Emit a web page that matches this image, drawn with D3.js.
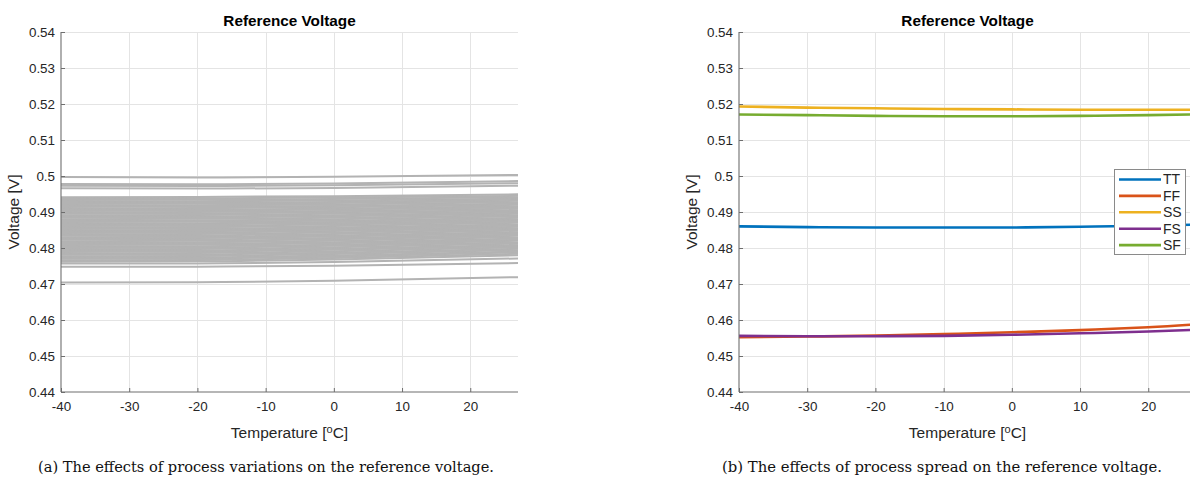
<!DOCTYPE html>
<html>
<head>
<meta charset="utf-8">
<script src="https://cdn.jsdelivr.net/npm/d3@7"></script>
<style>
  html, body { margin: 0; padding: 0; background: #ffffff; }
  svg { display: block; }
</style>
</head>
<body>
<svg id="fig" width="1190" height="480"></svg>
<script>
// Temperature sweep points for the Monte Carlo runs (deg C)
const mcTemps = [-40, -20, 0, 27];

// Monte Carlo runs of the reference voltage (V) at the mcTemps points
const mcRuns = [
  [0.4997, 0.4996, 0.4998, 0.5003],
  [0.4978, 0.4977, 0.4979, 0.4986],
  [0.4973, 0.4972, 0.4974, 0.4980],
  [0.4966, 0.4965, 0.4967, 0.4973],
  [0.4941, 0.4942, 0.4944, 0.4949],
  [0.4937, 0.4938, 0.4940, 0.4945],
  [0.4933, 0.4934, 0.4936, 0.4941],
  [0.4929, 0.4930, 0.4932, 0.4937],
  [0.4925, 0.4926, 0.4928, 0.4934],
  [0.4922, 0.4923, 0.4925, 0.4931],
  [0.4918, 0.4919, 0.4921, 0.4927],
  [0.4914, 0.4915, 0.4917, 0.4923],
  [0.4910, 0.4911, 0.4913, 0.4920],
  [0.4906, 0.4907, 0.4909, 0.4916],
  [0.4903, 0.4904, 0.4907, 0.4913],
  [0.4899, 0.4900, 0.4903, 0.4909],
  [0.4895, 0.4896, 0.4899, 0.4905],
  [0.4891, 0.4892, 0.4895, 0.4902],
  [0.4887, 0.4888, 0.4891, 0.4898],
  [0.4884, 0.4885, 0.4888, 0.4895],
  [0.4880, 0.4881, 0.4884, 0.4891],
  [0.4876, 0.4877, 0.4880, 0.4888],
  [0.4872, 0.4873, 0.4876, 0.4884],
  [0.4868, 0.4869, 0.4872, 0.4880],
  [0.4865, 0.4866, 0.4869, 0.4877],
  [0.4861, 0.4862, 0.4865, 0.4873],
  [0.4857, 0.4858, 0.4861, 0.4870],
  [0.4853, 0.4854, 0.4857, 0.4866],
  [0.4849, 0.4850, 0.4854, 0.4862],
  [0.4846, 0.4847, 0.4851, 0.4859],
  [0.4842, 0.4843, 0.4847, 0.4855],
  [0.4838, 0.4839, 0.4843, 0.4852],
  [0.4834, 0.4835, 0.4839, 0.4848],
  [0.4830, 0.4831, 0.4835, 0.4844],
  [0.4827, 0.4828, 0.4832, 0.4841],
  [0.4823, 0.4824, 0.4828, 0.4837],
  [0.4819, 0.4820, 0.4824, 0.4834],
  [0.4815, 0.4816, 0.4820, 0.4830],
  [0.4811, 0.4812, 0.4816, 0.4826],
  [0.4808, 0.4809, 0.4813, 0.4823],
  [0.4804, 0.4805, 0.4809, 0.4820],
  [0.4800, 0.4801, 0.4806, 0.4816],
  [0.4796, 0.4797, 0.4802, 0.4812],
  [0.4792, 0.4793, 0.4798, 0.4808],
  [0.4789, 0.4790, 0.4795, 0.4805],
  [0.4785, 0.4786, 0.4791, 0.4802],
  [0.4781, 0.4782, 0.4787, 0.4798],
  [0.4777, 0.4778, 0.4783, 0.4794],
  [0.4773, 0.4774, 0.4779, 0.4790],
  [0.4770, 0.4771, 0.4776, 0.4788],
  [0.4766, 0.4767, 0.4772, 0.4784],
  [0.4762, 0.4763, 0.4768, 0.4780],
  [0.4757, 0.4757, 0.4761, 0.4771],
  [0.4748, 0.4748, 0.4751, 0.4758],
  [0.4704, 0.4705, 0.4709, 0.4719]
];

// Temperature sweep points for the process corners (deg C)
const cornerTemps = [-40, -30, -20, -10, 0, 10, 20, 27];

// Process corner names and their reference voltage (V)
const cornerNames = ["TT", "FF", "SS", "FS", "SF"];
const vTT = [0.4860, 0.4858, 0.4857, 0.4857, 0.4857, 0.4859, 0.4862, 0.4865];
const vFF = [0.4552, 0.4554, 0.4557, 0.4561, 0.4566, 0.4572, 0.4580, 0.4588];
const vSS = [0.5193, 0.5190, 0.5188, 0.5186, 0.5185, 0.5184, 0.5184, 0.5184];
const vFS = [0.4556, 0.4555, 0.4555, 0.4556, 0.4559, 0.4563, 0.4568, 0.4573];
const vSF = [0.5171, 0.5169, 0.5167, 0.5166, 0.5166, 0.5167, 0.5169, 0.5171];
const cornerValues = [vTT, vFF, vSS, vFS, vSF];
const cornerColors = ["#0072BD", "#D95319", "#EDB120", "#7E2F8E", "#77AC30"];

// Axis ticks and texts
const xTicks = [-40, -30, -20, -10, 0, 10, 20];
const yTicks = [0.44, 0.45, 0.46, 0.47, 0.48, 0.49, 0.5, 0.51, 0.52, 0.53, 0.54];
const plotTitle = "Reference Voltage";
const yLabel = "Voltage [V]";
const captionA = "(a) The effects of process variations on the reference voltage.";
const captionB = "(b) The effects of process spread on the reference voltage.";

const svg = d3.select("#fig");
const sansFont = "'Liberation Sans', Arial, Helvetica, sans-serif";
const serifFont = "'DejaVu Serif', 'Liberation Serif', serif";
const textColor = "#262626";

function drawPanel(opts) {
  const x = d3.scaleLinear().domain([-40, 27]).range([opts.left, opts.right]);
  const y = d3.scaleLinear().domain([0.44, 0.54]).range([392, 32]);
  const g = svg.append("g");

  const clipId = "clip-" + opts.id;
  svg.append("clipPath").attr("id", clipId)
    .append("rect")
    .attr("x", opts.left).attr("y", 32)
    .attr("width", opts.right - opts.left).attr("height", 360);

  // grid
  const grid = g.append("g").attr("stroke", "#e4e4e4").attr("stroke-width", 1);
  grid.selectAll("line.gx").data(xTicks.slice(1)).join("line")
    .attr("x1", d => Math.round(x(d)) + 0.5).attr("x2", d => Math.round(x(d)) + 0.5)
    .attr("y1", 32).attr("y2", 392);
  grid.selectAll("line.gy").data(yTicks.slice(1)).join("line")
    .attr("x1", opts.left).attr("x2", opts.right)
    .attr("y1", d => Math.round(y(d)) + 0.5).attr("y2", d => Math.round(y(d)) + 0.5);

  // curves
  const plot = g.append("g").attr("clip-path", `url(#${clipId})`);
  opts.drawLines(plot, x, y);

  // axes (ticks pointing inward, box off)
  const xAxis = d3.axisBottom(x).tickValues(xTicks).tickSize(-4).tickPadding(9)
    .tickFormat(d => String(d));
  const yAxis = d3.axisLeft(y).tickValues(yTicks).tickSize(-4).tickPadding(6)
    .tickFormat(d => String(+d.toFixed(2)));

  const gx = g.append("g").attr("transform", "translate(0,392)").call(xAxis);
  const gy = g.append("g").attr("transform", `translate(${opts.left},0)`).call(yAxis);
  [gx, gy].forEach(a => {
    a.select(".domain").attr("stroke", "#6e6e6e").attr("stroke-width", 1.1);
    a.selectAll(".tick line").attr("stroke", "#6e6e6e");
    a.selectAll(".tick text").attr("fill", textColor)
      .style("font-family", sansFont).style("font-size", "13.4px");
  });
  gx.select(".domain").attr("d", `M${opts.left},0H${opts.right}`);
  gy.select(".domain").attr("d", `M0,392V32`);
  gx.selectAll(".tick text").attr("dy", "0.71em");

  const cx = (opts.left + opts.right) / 2;

  // title
  g.append("text").attr("x", cx).attr("y", 26)
    .attr("text-anchor", "middle")
    .style("font-family", sansFont).style("font-size", "15.3px")
    .style("font-weight", "bold").attr("fill", "#000")
    .text(plotTitle);

  // x label with superscript degree
  const xl = g.append("text").attr("x", cx).attr("y", 438)
    .attr("text-anchor", "middle")
    .style("font-family", sansFont).style("font-size", "15.5px")
    .attr("fill", textColor);
  xl.append("tspan").text("Temperature [");
  xl.append("tspan").attr("dy", -5).style("font-size", "11px").text("o");
  xl.append("tspan").attr("dy", 5).text("C]");

  // y label
  g.append("text")
    .attr("transform", `translate(${opts.left - 42},212) rotate(-90)`)
    .attr("text-anchor", "middle")
    .style("font-family", sansFont).style("font-size", "15.5px")
    .attr("fill", textColor)
    .text(yLabel);

  // caption
  g.append("text").attr("x", opts.capX).attr("y", 472)
    .attr("text-anchor", "middle")
    .attr("textLength", opts.capW).attr("lengthAdjust", "spacingAndGlyphs")
    .style("font-family", serifFont).style("font-size", "14.5px")
    .attr("fill", "#111")
    .text(opts.caption);

  return { x, y, g };
}

// (a) Monte Carlo runs
drawPanel({
  id: "a", left: 61, right: 518, caption: captionA, capX: 266, capW: 456,
  drawLines: (plot, x, y) => {
    const line = d3.line()
      .x((d, i) => x(mcTemps[i])).y(d => y(d))
      .curve(d3.curveNatural);
    plot.selectAll("path.mc").data(mcRuns).join("path")
      .attr("class", "mc")
      .attr("d", line)
      .attr("fill", "none")
      .attr("stroke", "#b3b3b3")
      .attr("stroke-width", 2);
  }
});

// (b) Process corners
drawPanel({
  id: "b", left: 739, right: 1196, caption: captionB, capX: 942, capW: 440,
  drawLines: (plot, x, y) => {
    const line = d3.line()
      .x((d, i) => x(cornerTemps[i])).y(d => y(d))
      .curve(d3.curveNatural);
    plot.selectAll("path.corner").data(cornerValues).join("path")
      .attr("class", "corner")
      .attr("d", line)
      .attr("fill", "none")
      .attr("stroke", (d, i) => cornerColors[i])
      .attr("stroke-width", 2.6);
  }
});

// legend
const legend = svg.append("g");
legend.append("rect")
  .attr("x", 1114.5).attr("y", 169.5).attr("width", 71).attr("height", 85)
  .attr("fill", "#fff").attr("stroke", "#8a8a8a").attr("stroke-width", 1);
const items = legend.selectAll("g.item").data(cornerNames).join("g")
  .attr("class", "item")
  .attr("transform", (d, i) => `translate(0,${179.5 + i * 16.4})`);
items.append("line")
  .attr("x1", 1119).attr("x2", 1161).attr("y1", 0).attr("y2", 0)
  .attr("stroke", (d, i) => cornerColors[i]).attr("stroke-width", 2.6);
items.append("text")
  .attr("x", 1163).attr("y", 0).attr("dy", "0.35em")
  .style("font-family", sansFont).style("font-size", "14px")
  .attr("fill", textColor)
  .text(d => d);
</script>
</body>
</html>
